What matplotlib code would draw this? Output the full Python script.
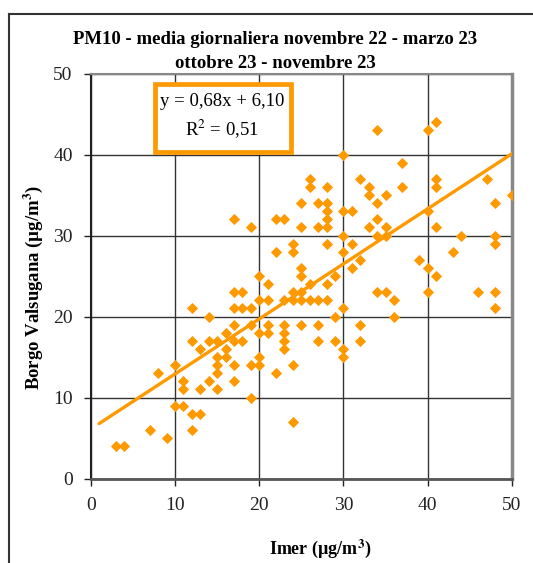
import numpy as np
import matplotlib.pyplot as plt
from matplotlib.lines import Line2D
from matplotlib.patches import FancyBboxPatch

# daily PM10 means (ug/m3)
imer = [3, 4, 7, 8, 9, 10, 10, 11, 11, 11, 12, 12, 12, 12, 13, 13, 13,
        14, 14, 14, 15, 15, 15, 15, 15, 16, 16, 16,
        17, 17, 17, 17, 17, 17, 17, 18, 18, 18,
        19, 19, 19, 19, 19, 20, 20, 20, 20, 20, 21, 21, 21, 21,
        22, 22, 22, 23, 23, 23, 23, 23, 23, 24, 24, 24, 24, 24, 24,
        25, 25, 25, 25, 25, 25, 25, 26, 26, 26, 26, 27, 27, 27, 27, 27,
        28, 28, 28, 28, 28, 28, 28, 28, 29, 29, 29,
        30, 30, 30, 30, 30, 30, 30, 31, 31, 31, 32, 32, 32, 32,
        33, 33, 33, 34, 34, 34, 34, 34, 35, 35, 35, 35, 36, 36, 37, 37,
        39, 40, 40, 40, 40, 41, 41, 41, 41, 41, 43, 44, 46, 47,
        48, 48, 48, 48, 48, 50]
borgo = [4, 4, 6, 13, 5, 14, 9, 12, 11, 9, 21, 17, 8, 6, 16, 11, 8,
         20, 17, 12, 17, 15, 14, 13, 11, 18, 16, 15,
         32, 23, 21, 19, 17, 14, 12, 23, 21, 17,
         31, 21, 19, 14, 10, 25, 22, 18, 15, 14, 24, 22, 19, 18,
         32, 28, 13, 32, 22, 19, 18, 17, 16, 29, 28, 23, 22, 14, 7,
         34, 31, 26, 25, 23, 22, 19, 37, 36, 24, 22, 34, 31, 22, 19, 17,
         36, 34, 33, 32, 31, 29, 24, 22, 25, 20, 17,
         40, 33, 30, 28, 21, 16, 15, 33, 29, 26, 37, 27, 19, 17,
         36, 35, 31, 43, 34, 32, 30, 23, 35, 31, 30, 23, 22, 20, 39, 36,
         27, 43, 33, 26, 23, 44, 37, 36, 31, 25, 28, 30, 23, 37,
         34, 30, 29, 23, 21, 35]

# trendline as printed on the chart
slope = 0.68
intercept = 6.10
r2 = 0.51
trend_x = [1, 50]

orange = '#FF9900'
plt.rcParams['font.family'] = ['Liberation Serif', 'DejaVu Serif']
plt.rcParams['mathtext.fontset'] = 'stix'

fig = plt.figure(figsize=(5.33, 5.63), dpi=100)
W, H = 533, 563
ax = fig.add_axes([90.7 / W, 1 - 478.5 / H, (512 - 90.7) / W, (478.5 - 73.5) / H])

ax.plot(imer, borgo, linestyle='none', marker='D', markersize=5.2,
        color=orange, markeredgewidth=0.6, zorder=3)
tx = np.array(trend_x, dtype=float)
ax.plot(tx, slope * tx + intercept, color=orange, lw=2.4, zorder=4,
        solid_capstyle='round')

ax.set_xlim(0, 50)
ax.set_ylim(0, 50)
ax.set_xticks(range(0, 51, 10))
ax.set_yticks(range(0, 51, 10))
ax.tick_params(labelsize=14, length=5, width=1, direction='out', pad=8,
               colors='#222222')
ax.grid(True, color='#333333', lw=1)
ax.set_axisbelow(True)
for side in ['top', 'right']:
    ax.spines[side].set_color('#888888')
ax.spines['top'].set_linewidth(1.5)
ax.spines['right'].set_linewidth(2.5)
ax.spines['left'].set_color('#222222')
ax.spines['left'].set_linewidth(1.5)
ax.spines['bottom'].set_color('#555555')
ax.spines['bottom'].set_linewidth(2)

# equation box (white fill hides the grid behind it)
fig.add_artist(FancyBboxPatch((155 / W, 1 - 152 / H), 136 / W, 68 / H,
                              boxstyle='square,pad=0', facecolor='white',
                              edgecolor=orange, lw=3.4, zorder=5,
                              transform=fig.transFigure))
fig.text(222 / W, 1 - 102 / H, 'y = 0,68x + 6,10', ha='center', va='center',
         fontsize=13.5, zorder=6)
fig.text(222 / W, 1 - 129 / H, 'R$^{2}$ = 0,51', ha='center', va='center',
         fontsize=13.5, zorder=6)

fig.text(275 / W, 1 - 40 / H, 'PM10 - media giornaliera novembre 22 - marzo 23',
         ha='center', va='center', fontsize=13.5, fontweight='bold')
fig.text(275 / W, 1 - 63 / H, 'ottobre 23 - novembre 23',
         ha='center', va='center', fontsize=13.5, fontweight='bold')
fig.text(320 / W, 1 - 549 / H, 'Imer (µg/m$^{\\mathbf{3}}$)', ha='center',
         va='center', fontsize=13, fontweight='bold')
fig.text(33 / W, 1 - 287 / H, 'Borgo Valsugana (µg/m$^{\\mathbf{3}}$)',
         ha='center', va='center', fontsize=13.5, fontweight='bold', rotation=90)

# outer chart frame (cut by the image edges)
fig.add_artist(Line2D([9 / W, 1], [1 - 14 / H, 1 - 14 / H], color='#333333',
                      lw=1.5, transform=fig.transFigure))
fig.add_artist(Line2D([9 / W, 9 / W], [0, 1 - 14 / H], color='#333333',
                      lw=1.5, transform=fig.transFigure))

fig.savefig('out.png', dpi=100)
